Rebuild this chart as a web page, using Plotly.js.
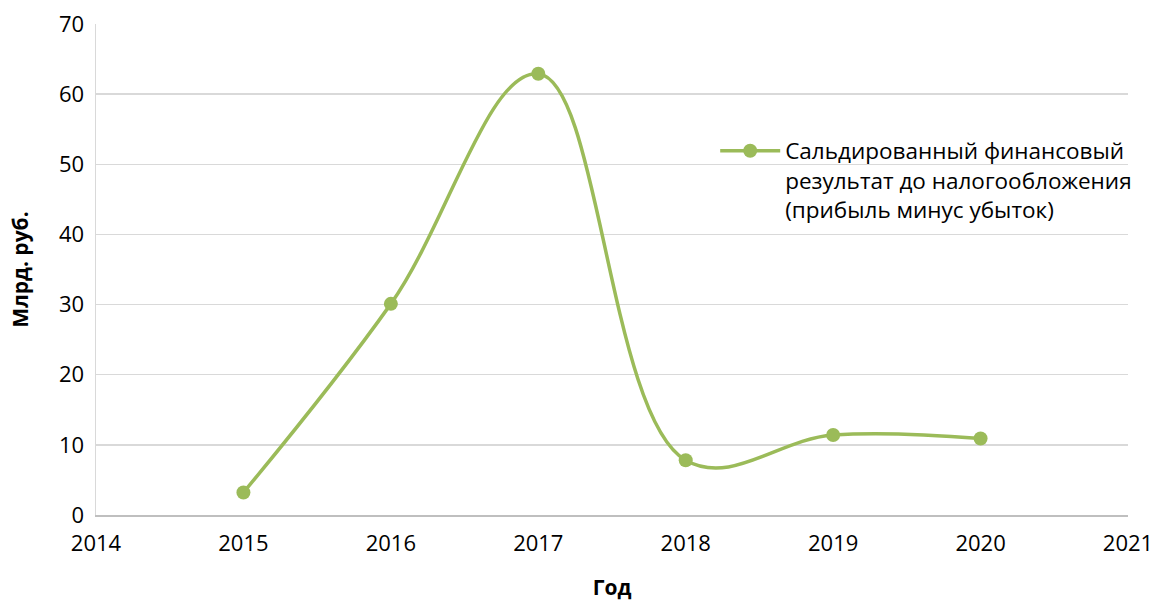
<!DOCTYPE html>
<html>
<head>
<meta charset="utf-8">
<script src="https://cdn.plot.ly/plotly-3.0.1.min.js"></script>
<style>html,body{margin:0;padding:0;background:#fff;}#chart{width:1157px;height:601px;}</style>
</head>
<body>
<div id="chart"></div>
<script>
const years = [2015, 2016, 2017, 2018, 2019, 2020];
const values = [3.2, 30.1, 62.9, 7.8, 11.4, 10.9];
const seriesName = "Сальдированный финансовый<br>результат до налогообложения<br>(прибыль минус убыток)";
const xTitle = "Год";
const yTitle = "Млрд. руб.";
const green = "#9BBB59";
const fontFam = "'Open Sans', 'DejaVu Sans', sans-serif";

const trace = {
  x: years, y: values, name: seriesName,
  type: "scatter", mode: "lines+markers",
  line: {color: green, width: 3.5, shape: "spline", smoothing: 1.1},
  marker: {color: green, size: 14}
};

const layout = {
  width: 1157, height: 601,
  margin: {l: 96, r: 29, t: 24, b: 86},
  paper_bgcolor: "#fff", plot_bgcolor: "#fff",
  font: {family: fontFam, size: 20, color: "#000"},
  showlegend: true,
  legend: {x: 0.6, y: 0.785, xanchor: "left", yanchor: "top", valign: "top",
    font: {size: 22.5, color: "#000"}, bgcolor: "rgba(0,0,0,0)", itemwidth: 60},
  xaxis: {
    range: [2014, 2021], dtick: 1, tick0: 2014, showgrid: false, zeroline: false,
    showline: true, linecolor: "#bfbfbf", linewidth: 1.5, ticks: "",
    tickfont: {size: 22}, ticklabelstandoff: 8,
    title: {text: "<b>" + xTitle + "</b>", font: {size: 21}, standoff: 24}
  },
  yaxis: {
    range: [0, 70], dtick: 10, showgrid: true, gridcolor: "#d9d9d9", gridwidth: 1.5,
    zeroline: false, showline: true, linecolor: "#d9d9d9", linewidth: 1.5, ticks: "",
    tickfont: {size: 22}, ticklabelstandoff: 6,
    title: {text: "<b>" + yTitle + "</b>", font: {size: 21}, standoff: 24}
  }
};

Plotly.newPlot("chart", [trace], layout, {displayModeBar: false, staticPlot: true});
</script>
</body>
</html>
